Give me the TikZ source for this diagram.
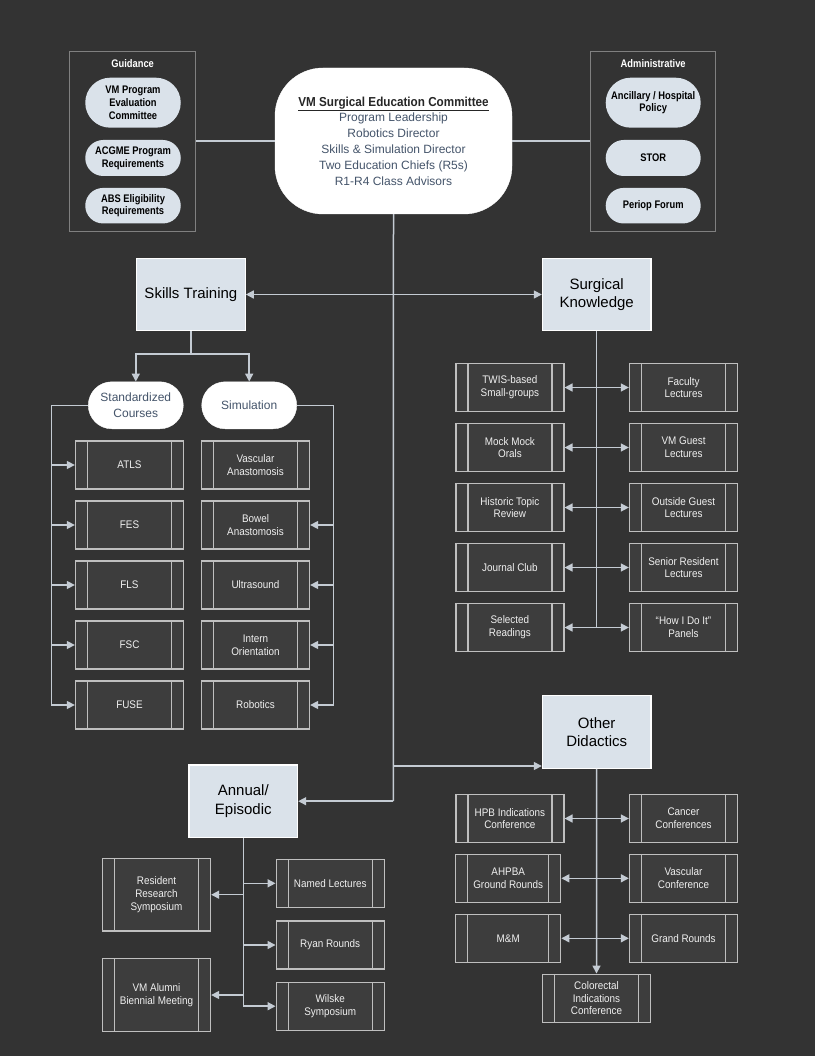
\documentclass[tikz,border=0pt]{standalone}
\usepackage{fontspec}
\setmainfont{Liberation Sans}
\newfontfamily\cond[FakeStretch=0.9]{Liberation Sans}
\newfontfamily\condb[FakeStretch=0.85]{Liberation Sans}
\usetikzlibrary{arrows.meta,calc,shapes.misc}
\definecolor{bg}{HTML}{333333}
\definecolor{procf}{HTML}{3D3D3D}
\definecolor{procb}{HTML}{BFBFBF}
\definecolor{lightf}{HTML}{DAE2EA}
\definecolor{linec}{HTML}{C4CBD3}
\definecolor{slate}{HTML}{44546A}
\definecolor{grpb}{HTML}{808080}
\definecolor{darktxt}{HTML}{262626}
\begin{document}
\begin{tikzpicture}[x=1pt,y=-1pt,
  conn/.style={draw=linec, line width=1.5pt},
  arr/.style={conn, -{Triangle[length=8pt,width=8pt]}},
  barr/.style={conn, {Triangle[length=8pt,width=8pt]}-{Triangle[length=8pt,width=8pt]}},
  proc/.style={draw=procb, fill=procf, line width=1.3pt, inner sep=0pt,
    minimum width=108pt, minimum height=48pt, text=white!94!black, align=center,
    font=\cond\fontsize{11}{12.7}\selectfont,
    path picture={\draw[procb, line width=1.3pt]
      ([xshift=12pt]path picture bounding box.north west) -- ([xshift=12pt]path picture bounding box.south west)
      ([xshift=-12pt]path picture bounding box.north east) -- ([xshift=-12pt]path picture bounding box.south east);}},
  major/.style={draw=white, fill=lightf, line width=1.3pt, inner sep=0pt,
    minimum width=108.5pt, minimum height=72.5pt, align=center, text=black,
    font=\fontsize{15}{18.3}\selectfont},
  wpill/.style={rounded rectangle, draw=white, fill=white, inner sep=0pt,
    minimum width=95pt, minimum height=47pt, align=center, text=slate,
    font=\fontsize{12}{16}\selectfont},
  gpill/.style={rounded rectangle, fill=lightf, inner sep=0pt,
    minimum width=95.5pt, align=center, text=black,
    font=\condb\bfseries\fontsize{11}{12.8}\selectfont},
  grp/.style={draw=grpb, line width=1.3pt, inner sep=0pt, minimum width=126pt, minimum height=180pt},
  grptitle/.style={text=white, font=\condb\bfseries\fontsize{11}{13}\selectfont, inner sep=0pt},
  committee/.style={draw=white, fill=white, rounded corners=48pt, inner sep=0pt,
    minimum width=237pt, minimum height=146pt, align=center, text=slate,
    font=\fontsize{12}{15.8}\selectfont}
]
\useasboundingbox (0,0) rectangle (816,1056);
\fill[bg] (0,0) rectangle (815,1056);
\fill[white] (815,0) rectangle (816,1056);

% Top groups
\node[grp] (guid) at (132.6,141.7) {};
\node[grptitle] (guidt) at (132.6,64) {Guidance};
\node[gpill, minimum height=50pt] (vmpec) at (133,102.7) {VM Program\\Evaluation\\Committee};
\node[gpill, minimum height=36pt] (acgme) at (133,158) {ACGME Program\\Requirements};
\node[gpill, minimum height=35.5pt] (abs) at (133,205.7) {ABS Eligibility\\Requirements};

\node[grp, minimum width=125pt] (admin) at (653.2,141.8) {};
\node[grptitle] (admint) at (653.2,64) {Administrative};
\node[gpill, minimum width=95pt, minimum height=50pt] (anc) at (653.2,102.7) {Ancillary / Hospital\\Policy};
\node[gpill, minimum width=95pt, minimum height=36pt] (stor) at (653.2,158) {STOR};
\node[gpill, minimum width=95pt, minimum height=35.5pt] (periop) at (653.2,205.7) {Periop Forum};

\node[committee] (com) at (393.5,141) {{\color{darktxt}\cond\bfseries\fontsize{13}{15.8}\selectfont\underline{VM Surgical Education Committee}}\\Program Leadership\\Robotics Director\\Skills \& Simulation Director\\Two Education Chiefs (R5s)\\R1-R4 Class Advisors};

\draw[conn] (guid.east |- com.west) -- (com.west);
\draw[conn] (com.east) -- (admin.west |- com.east);

% Major boxes
\node[major] (skills) at (190.9,294.5) {Skills Training};
\node[major] (sk) at (596.7,294.5) {Surgical\\Knowledge};
\node[major] (od) at (596.7,732) {Other\\Didactics};
\node[major] (ae) at (243.3,801.2) {Annual/\\Episodic};

% Committee trunk
\coordinate (trunk) at (393.3,801.2);
\draw[conn] (com.south) -- (trunk);
\draw[arr] (trunk) -- (ae.east);
\draw[arr] (com.south |- 0,766) -- (od.west |- 0,766);

\draw[barr] (skills.east) -- (sk.west);

% Skills training
\node[wpill] (std) at (135.8,405.3) {Standardized\\Courses};
\node[wpill] (sim) at (249.2,405.3) {Simulation};
\coordinate (split) at (190.9,354);
\draw[conn] (skills.south) -- (split);
\draw[arr] (split) -| (std.north);
\draw[arr] (split) -| (sim.north);

\node[proc] (atls) at (129.5,465) {ATLS};
\node[proc] (fes) at (129.5,525) {FES};
\node[proc] (fls) at (129.5,585) {FLS};
\node[proc] (fsc) at (129.5,645) {FSC};
\node[proc] (fuse) at (129.5,705) {FUSE};
\node[proc] (vasc) at (255.5,465) {Vascular\\Anastomosis};
\node[proc] (bowel) at (255.5,525) {Bowel\\Anastomosis};
\node[proc] (ultra) at (255.5,585) {Ultrasound};
\node[proc] (intern) at (255.5,645) {Intern\\Orientation};
\node[proc] (robot) at (255.5,705) {Robotics};

\coordinate (stdbus) at (51.7,405.3);
\draw[arr] (std.west) -- (stdbus) |- (fuse.west);
\foreach \n in {atls,fes,fls,fsc} \draw[arr] (stdbus |- \n.west) -- (\n.west);
\coordinate (simbus) at (333.3,405.3);
\draw[arr] (sim.east) -- (simbus) |- (robot.east);
\foreach \n in {bowel,ultra,intern} \draw[arr] (simbus |- \n.east) -- (\n.east);

% Surgical knowledge
\node[proc] (twis) at (509.9,387.5) {TWIS-based\\Small-groups};
\node[proc] (mock) at (509.9,447.5) {Mock Mock\\Orals};
\node[proc] (hist) at (509.9,507.5) {Historic Topic\\Review};
\node[proc] (jc) at (509.9,567.5) {Journal Club};
\node[proc] (sel) at (509.9,627.5) {Selected\\Readings};
\node[proc] (fac) at (683.5,387.5) {Faculty\\Lectures};
\node[proc] (vmg) at (683.5,447.5) {VM Guest\\Lectures};
\node[proc] (outg) at (683.5,507.5) {Outside Guest\\Lectures};
\node[proc] (srl) at (683.5,567.5) {Senior Resident\\Lectures};
\node[proc] (how) at (683.5,627.5) {“How I Do It”\\Panels};
\draw[conn] (sk.south) -- (sk.south |- sel.east);
\draw[barr] (twis.east) -- (fac.west);
\draw[barr] (mock.east) -- (vmg.west);
\draw[barr] (hist.east) -- (outg.west);
\draw[barr] (jc.east) -- (srl.west);
\draw[barr] (sel.east) -- (how.west);

% Other didactics
\node[proc] (hpb) at (509.9,818.5) {HPB Indications\\Conference};
\node[proc, minimum width=105pt] (ahpba) at (508.2,878.3) {AHPBA\\Ground Rounds};
\node[proc, minimum width=105pt] (mm) at (508.2,938.3) {M\&M};
\node[proc] (canc) at (683.5,818.5) {Cancer\\Conferences};
\node[proc] (vconf) at (683.5,878.3) {Vascular\\Conference};
\node[proc] (grand) at (683.5,938.3) {Grand Rounds};
\node[proc] (colo) at (596.5,998.2) {Colorectal\\Indications\\Conference};
\draw[arr] (od.south) -- (colo.north);
\draw[barr] (hpb.east) -- (canc.west);
\draw[barr] (ahpba.east) -- (vconf.west);
\draw[barr] (mm.east) -- (grand.west);

% Annual / Episodic
\node[proc] (named) at (330.2,883.3) {Named Lectures};
\node[proc] (ryan) at (330.2,945) {Ryan Rounds};
\node[proc] (wilske) at (330.2,1006.2) {Wilske\\Symposium};
\node[proc, minimum height=72.5pt] (rrs) at (156.5,894.7) {Resident\\Research\\Symposium};
\node[proc, minimum height=72.5pt] (alumni) at (156.5,995) {VM Alumni\\Biennial Meeting};
\draw[arr] (ae.south) |- (wilske.west);
\draw[arr] (ae.south |- named.west) -- (named.west);
\draw[arr] (ae.south |- ryan.west) -- (ryan.west);
\draw[arr] (ae.south |- rrs.east) -- (rrs.east);
\draw[arr] (ae.south |- alumni.east) -- (alumni.east);
\end{tikzpicture}
\end{document}
